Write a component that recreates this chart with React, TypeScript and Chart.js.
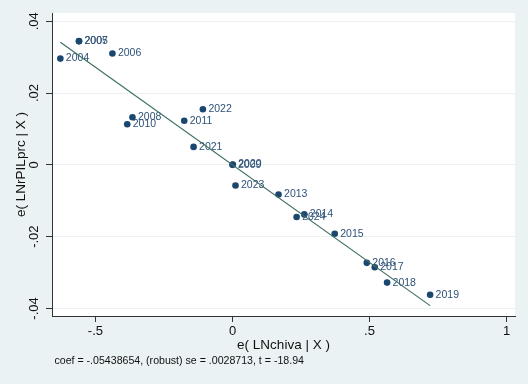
import React, { useEffect, useRef } from "react";
import { Chart, registerables } from "chart.js";

Chart.register(...registerables);

// ---- data ----
const yearLabels = ["2004", "2005", "2006", "2007", "2008", "2009", "2010", "2011", "2013", "2014",
  "2015", "2016", "2017", "2018", "2019", "2020", "2021", "2022", "2023", "2024"];
const xResid = [-0.628, -0.560, -0.438, -0.560, -0.365, 0.000, -0.384, -0.176, 0.168, 0.262,
  0.373, 0.490, 0.519, 0.564, 0.721, 0.001, -0.142, -0.108, 0.011, 0.234];
const yResid = [0.0296, 0.0345, 0.0310, 0.0344, 0.01325, 0.0000, 0.0113, 0.0123, -0.00825, -0.0138,
  -0.0192, -0.0273, -0.0285, -0.0328, -0.0362, 0.0001, 0.0050, 0.0155, -0.00575, -0.01453];
const fitX = [-0.628, 0.721];
const fitY = [0.03416, -0.03921];

const xTickValues = [-0.5, 0, 0.5, 1];
const xTickLabels = ["-.5", "0", ".5", "1"];
const yTickValues = [-0.04, -0.02, 0, 0.02, 0.04];
const yTickLabels = ["-.04", "-.02", "0", ".02", ".04"];

const xTitle = "e( LNchiva | X )";
const yTitle = "e( LNrPILprc | X )";
const noteText = "coef = -.05438654, (robust) se = .0028713, t = -18.94";

const NAVY = "#1a476f";
const LABEL = "#2e5278";
const FIT = "#3d6f62";
const BG = "#eaf2f3";
const FONT = '"Liberation Sans", Arial, sans-serif';

export default function App() {
  const ref = useRef<HTMLCanvasElement | null>(null);

  useEffect(() => {
    document.body.style.margin = "0";
    const canvas = ref.current;
    if (!canvas) return;

    const bgPlugin = {
      id: "bgPlugin",
      beforeDraw(chart: any) {
        const { ctx, chartArea } = chart;
        ctx.save();
        ctx.fillStyle = BG;
        ctx.fillRect(0, 0, chart.width, chart.height);
        ctx.fillStyle = "#ffffff";
        ctx.fillRect(chartArea.left, chartArea.top, chartArea.right - chartArea.left, chartArea.bottom - chartArea.top);
        ctx.restore();
      },
    };

    const labelPlugin = {
      id: "labelPlugin",
      afterDatasetDraw(chart: any, args: any) {
        if (args.index !== 1) return;
        const { ctx } = chart;
        const meta = chart.getDatasetMeta(1);
        ctx.save();
        ctx.font = `10.5px ${FONT}`;
        ctx.fillStyle = LABEL;
        ctx.textAlign = "left";
        ctx.textBaseline = "middle";
        meta.data.forEach((el: any, i: number) => {
          ctx.fillText(yearLabels[i], el.x + 5.5, el.y);
        });
        ctx.restore();
      },
      afterDraw(chart: any) {
        const { ctx, chartArea } = chart;
        ctx.save();
        ctx.font = `10.6px ${FONT}`;
        ctx.fillStyle = "#111";
        ctx.textAlign = "left";
        ctx.textBaseline = "middle";
        ctx.fillText(noteText, chartArea.left + 2.5, 361);
        ctx.restore();
      },
    };

    const chart = new Chart(canvas, {
      type: "scatter",
      data: {
        datasets: [
          {
            type: "line",
            data: fitX.map((x, i) => ({ x, y: fitY[i] })),
            borderColor: FIT,
            borderWidth: 1.2,
            pointRadius: 0,
            showLine: true,
            fill: false,
            order: 0,
          } as any,
          {
            data: xResid.map((x, i) => ({ x, y: yResid[i] })),
            backgroundColor: NAVY,
            borderColor: NAVY,
            borderWidth: 0,
            pointRadius: 3.3,
            order: 1,
          },
        ],
      },
      options: {
        animation: false,
        responsive: false,
        events: [],
        layout: { padding: { top: 13, right: 13, left: 0, bottom: 0 } },
        plugins: { legend: { display: false }, tooltip: { enabled: false } },
        scales: {
          x: {
            type: "linear",
            min: -0.6585,
            max: 1.0307,
            afterBuildTicks: (s: any) => {
              s.ticks = xTickValues.map((v) => ({ value: v }));
            },
            afterFit: (s: any) => {
              s.height = 68;
            },
            ticks: {
              autoSkip: false,
              maxRotation: 0,
              minRotation: 0,
              padding: 2,
              color: "#111",
              font: { family: FONT, size: 13 },
              callback: (v: any) => {
                const i = xTickValues.indexOf(Number(v));
                return i >= 0 ? xTickLabels[i] : "";
              },
            },
            grid: { drawOnChartArea: false, tickLength: 6, tickColor: "#333", tickWidth: 1 },
            border: { display: true, color: "#333", width: 1 },
            title: {
              display: true,
              text: xTitle,
              color: "#111",
              font: { family: FONT, size: 13.5 },
              padding: { top: 0, bottom: 31 },
            },
          },
          y: {
            type: "linear",
            min: -0.0421,
            max: 0.0423,
            afterBuildTicks: (s: any) => {
              s.ticks = yTickValues.map((v) => ({ value: v }));
            },
            afterFit: (s: any) => {
              s.width = 52;
            },
            ticks: {
              autoSkip: false,
              minRotation: 90,
              maxRotation: 90,
              crossAlign: "center",
              padding: 0,
              color: "#111",
              font: { family: FONT, size: 13 },
              callback: (v: any) => {
                const i = yTickValues.findIndex((t) => Math.abs(t - Number(v)) < 1e-9);
                return i >= 0 ? yTickLabels[i] : "";
              },
            },
            grid: { color: BG, lineWidth: 1, tickLength: 6, tickColor: "#333", tickWidth: 1 },
            border: { display: true, color: "#333", width: 1 },
            title: {
              display: true,
              text: yTitle,
              color: "#111",
              font: { family: FONT, size: 13.5 },
              padding: { top: 13, bottom: 0 },
            },
          },
        },
      },
      plugins: [bgPlugin, labelPlugin],
    });

    return () => chart.destroy();
  }, []);

  return <canvas ref={ref} width={528} height={384} style={{ display: "block", width: 528, height: 384 }} />;
}
